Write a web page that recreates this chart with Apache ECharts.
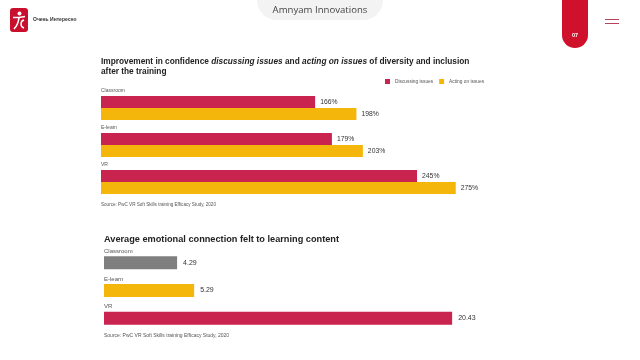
<!DOCTYPE html>
<html>
<head>
<meta charset="utf-8">
<script src="https://cdn.jsdelivr.net/npm/echarts@6/dist/echarts.min.js"></script>
<style>
html,body{margin:0;padding:0;background:#fff;}
#c{width:640px;height:360px;}
</style>
</head>
<body>
<div id="c"></div>
<script>
const topCategories = ['Classroom', 'E-learn', 'VR'];
const discussingIssues = [166, 179, 245];
const actingOnIssues = [198, 203, 275];
const seriesNames = ['Discussing issues', 'Acting on issues'];
const bottomCategories = ['Classroom', 'E-learn', 'VR'];
const emotionalConnection = [4.29, 5.29, 20.43];
const sourceText = 'Source: PwC VR Soft Skills training Efficacy Study, 2020';
const headerTitle = 'Amnyam Innovations';
const brandName = 'Очень Интересно';
const pageNumber = '07';

const RED = '#C9234F';
const YELLOW = '#F4B60A';
const GRAY = '#7F7F7F';
const bottomColors = [GRAY, YELLOW, RED];
const FONT = 'Liberation Sans, Arial, sans-serif';

const chart = echarts.init(document.getElementById('c'), null, {renderer: 'canvas'});

const staticGraphics = [
  {type: 'rect', shape: {x: 257, y: -20, width: 126, height: 40, r: 20}, style: {fill: '#F3F3F3'}},
  {type: 'text', x: 320, y: 10, style: {text: headerTitle, fontFamily: 'Open Sans, sans-serif', fontSize: 9.6, fill: '#444', align: 'center', verticalAlign: 'middle'}},
  {type: 'rect', shape: {x: 10, y: 8, width: 18, height: 24, r: 3}, style: {fill: '#C8102E'}},
  {type: 'circle', shape: {cx: 19.5, cy: 13.5, r: 2}, style: {fill: '#fff'}},
  {type: 'polyline', shape: {points: [[13, 17.5], [19, 17.5], [25, 16.5]]}, style: {stroke: '#fff', lineWidth: 1.6, fill: null}},
  {type: 'bezierCurve', shape: {x1: 19, y1: 17.5, cpx1: 18.5, cpy1: 22, cpx2: 17, cpy2: 26, x2: 14, y2: 29}, style: {stroke: '#fff', lineWidth: 1.6, fill: null}},
  {type: 'bezierCurve', shape: {x1: 24, y1: 20, cpx1: 20, cpy1: 21, cpx2: 20, cpy2: 27, x2: 24, y2: 28}, style: {stroke: '#fff', lineWidth: 1.4, fill: null}},
  {type: 'text', x: 33, y: 20, style: {text: brandName, fontFamily: FONT, fontWeight: 'bold', fontSize: 5, fill: '#333', verticalAlign: 'middle'}},
  {type: 'rect', shape: {x: 562, y: -20, width: 26, height: 68, r: 13}, style: {fill: '#D0112B'}},
  {type: 'text', x: 575, y: 35.5, style: {text: pageNumber, fontFamily: FONT, fontWeight: 'bold', fontSize: 5.5, fill: '#fff', align: 'center', verticalAlign: 'middle'}},
  {type: 'line', shape: {x1: 605, y1: 19.5, x2: 619, y2: 19.5}, style: {stroke: '#B5455E', lineWidth: 1}},
  {type: 'line', shape: {x1: 605, y1: 23.5, x2: 619, y2: 23.5}, style: {stroke: '#B5455E', lineWidth: 1}},
  {type: 'text', x: 101, y: 205, style: {text: sourceText, fontFamily: FONT, fontSize: 4.6, fill: '#555', verticalAlign: 'middle'}},
  {type: 'text', x: 104, y: 336, style: {text: sourceText, fontFamily: FONT, fontSize: 5, fill: '#555', verticalAlign: 'middle'}}
];

const option = {
  backgroundColor: '#ffffff',
  animation: false,
  textStyle: {fontFamily: FONT},
  title: [
    {
      left: 96, top: 52,
      text: '{b|Improvement in confidence }{bi|discussing issues}{b| and }{bi|acting on issues}{b| of diversity and inclusion}\n{b|after the training}',
      textStyle: {
        rich: {
          b: {fontFamily: FONT, fontWeight: 'bold', fontSize: 8.3, color: '#222', lineHeight: 10},
          bi: {fontFamily: FONT, fontWeight: 'bold', fontStyle: 'italic', fontSize: 8.3, color: '#222', lineHeight: 10}
        }
      }
    },
    {
      left: 99, top: 230,
      text: 'Average emotional connection felt to learning content',
      textStyle: {fontFamily: FONT, fontWeight: 'bold', fontSize: 9.2, color: '#222'}
    }
  ],
  legend: {
    data: seriesNames,
    left: 380, top: 74,
    icon: 'rect',
    itemWidth: 5, itemHeight: 5, itemGap: 6,
    textStyle: {fontFamily: FONT, fontSize: 4.8, color: '#555'}
  },
  grid: [
    {left: 101, top: 89.5, width: 387, height: 111},
    {left: 104, top: 249, width: 426, height: 83}
  ],
  xAxis: [
    {gridIndex: 0, type: 'value', min: 0, max: 300, show: false},
    {gridIndex: 1, type: 'value', min: 0, max: 25, show: false}
  ],
  yAxis: [
    {
      gridIndex: 0, type: 'category', data: topCategories, inverse: true,
      axisLine: {show: false}, axisTick: {show: false}, splitLine: {show: false}, axisLabel: {show: false}
    },
    {
      gridIndex: 1, type: 'category', data: bottomCategories, inverse: true,
      axisLine: {show: false}, axisTick: {show: false}, splitLine: {show: false}, axisLabel: {show: false}
    }
  ],
  series: [
    {
      name: seriesNames[0], type: 'bar', xAxisIndex: 0, yAxisIndex: 0,
      data: discussingIssues, barWidth: 12, barGap: '0%',
      itemStyle: {color: RED},
      label: {show: true, position: 'right', distance: 5, formatter: '{c}%', fontSize: 6.8, color: '#333', fontFamily: FONT}
    },
    {
      name: seriesNames[1], type: 'bar', xAxisIndex: 0, yAxisIndex: 0,
      data: actingOnIssues, barWidth: 12, barGap: '0%',
      itemStyle: {color: YELLOW},
      label: {show: true, position: 'right', distance: 5, formatter: '{c}%', fontSize: 6.8, color: '#333', fontFamily: FONT}
    },
    {
      name: 'Emotional connection', type: 'bar', xAxisIndex: 1, yAxisIndex: 1,
      data: emotionalConnection.map((v, i) => ({value: v, itemStyle: {color: bottomColors[i]}})),
      barWidth: 13,
      label: {show: true, position: 'right', distance: 6, formatter: (p) => p.value.toFixed(2), fontSize: 7, color: '#333', fontFamily: FONT}
    }
  ],
  graphic: staticGraphics
};
chart.setOption(option);

// category labels placed above each bar group, positioned through the axes' own scales
const catLabels = [];
topCategories.forEach((cat) => {
  const p = chart.convertToPixel({xAxisIndex: 0, yAxisIndex: 0}, [0, cat]);
  catLabels.push({type: 'text', x: p[0], y: p[1] - 17, style: {text: cat, fontFamily: FONT, fontSize: 5, fill: '#555', verticalAlign: 'middle'}});
});
bottomCategories.forEach((cat) => {
  const p = chart.convertToPixel({xAxisIndex: 1, yAxisIndex: 1}, [0, cat]);
  catLabels.push({type: 'text', x: p[0], y: p[1] - 11.5, style: {text: cat, fontFamily: FONT, fontSize: 6, fill: '#555', verticalAlign: 'middle'}});
});
chart.setOption({graphic: staticGraphics.concat(catLabels)}, {replaceMerge: ['graphic']});
</script>
</body>
</html>
